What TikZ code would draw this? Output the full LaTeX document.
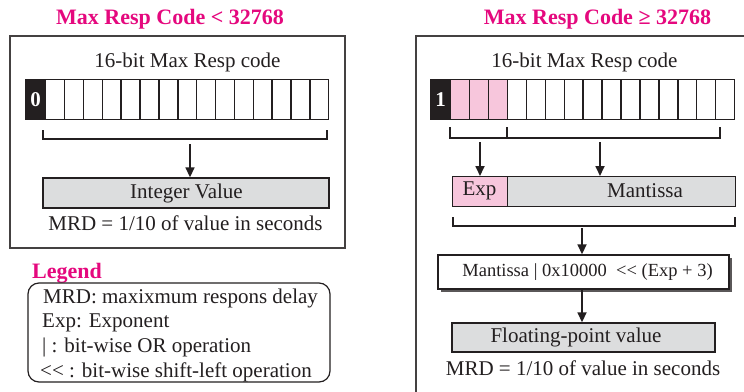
\documentclass[tikz,border=0pt]{standalone}
\usepackage{fontspec}
\setmainfont{Liberation Serif}
\usetikzlibrary{arrows.meta,shadows}
\definecolor{mag}{HTML}{E5087E}
\definecolor{pinkc}{HTML}{F7C6DC}
\definecolor{grayc}{HTML}{DCDDDE}
\definecolor{ink}{HTML}{231F20}
\begin{document}
\begin{tikzpicture}[x=1pt,y=-1pt,
  txt/.style={font=\fontsize{21}{25}\selectfont, text=ink, inner sep=0},
  ttl/.style={font=\fontsize{22}{26}\selectfont\bfseries, text=mag, inner sep=0, anchor=base},
  cell/.style={draw=ink, line width=1.4pt, minimum width=18.9pt, minimum height=40pt, inner sep=0, anchor=north west},
  bitone/.style={cell, fill=ink, minimum width=20pt, text=white, font=\fontsize{21}{25}\selectfont\bfseries},
  valbox/.style={draw=ink, line width=1.4pt, fill=grayc, inner sep=0, text=ink, font=\fontsize{21}{25}\selectfont},
  panel/.style={draw=ink!85, line width=1.3pt},
  brk/.style={draw=ink, line width=1.4pt},
  arr/.style={draw=ink, line width=1.7pt, -{Triangle[length=10pt,width=9pt]}}
]
\useasboundingbox (0,0) rectangle (744,391);
\fill[white] (0,0) rectangle (744,391);

% ---------------- Left panel ----------------
\node[ttl] (tL) at (170,24) {Max Resp Code < 32768};
\draw[panel] (10,36) rectangle (345,248);
\node[txt, anchor=base] (cL) at (187.5,67) {16-bit Max Resp code};
\node[bitone] (L0) at (25,79) {0};
\foreach \i in {1,...,15}{
  \node[cell] (L\i) at ({45+(\i-1)*18.87},79) {};
}
\coordinate (lb1) at (43,130);
\coordinate (lb2) at (327,130);
\draw[brk] (lb1) -- ++(0,9) -| (lb2);
\node[valbox, minimum width=286pt, minimum height=30pt] (IV) at (186,193) {};
\node[txt] (IVt) at (186.5,193) {Integer Value};
\coordinate (la) at (190,144);
\draw[arr] (la) -- (la |- IV.north);
\node[txt, anchor=base] (mrdL) at (185.5,230) {MRD = 1/10 of value in seconds};

% Legend
\node[ttl, anchor=base west] (leg) at (32,278) {Legend};
\draw[draw=ink, line width=1.2pt, rounded corners=11pt] (28,283) rectangle (330,382);
\node[txt, anchor=base west] (lg1) at (43,303) {MRD: maxixmum respons delay};
\node[txt, anchor=base west] (lg2) at (42,327.5) {Exp: Exponent};
\node[txt, anchor=base west] (lg3) at (42,352) {| : bit-wise OR operation};
\node[txt, anchor=base west] (lg4) at (40,377) {<{}< : bit-wise shift-left operation};

% ---------------- Right panel ----------------
\node[ttl] (tR) at (597.5,24) {Max Resp Code ≥ 32768};
\draw[panel] (745,36) -- (416,36) -- (416,392);
\node[txt, anchor=base] (cR) at (584.5,67) {16-bit Max Resp code};
\node[bitone] (R0) at (430,79) {1};
\foreach \i in {1,...,15}{
  \ifnum\i<4
    \node[cell, fill=pinkc] (R\i) at ({450+(\i-1)*18.93},79) {};
  \else
    \node[cell] (R\i) at ({450+(\i-1)*18.93},79) {};
  \fi
}
\coordinate (rb1) at (450,127);
\coordinate (rbm) at (507,127);
\coordinate (rb2) at (720,127);
\draw[brk] (rb1) -- ++(0,11) -| (rb2);
\draw[draw=ink, line width=2.6pt] (rbm) -- ++(0,11);

\node[draw=ink, line width=1.4pt, fill=pinkc, minimum width=55pt, minimum height=30pt, inner sep=0, anchor=north west] (Exp) at (452,176) {};
\node[txt] (Expt) at (479.5,191) {Exp};
\node[valbox, minimum width=228pt, minimum height=30pt, anchor=north west] (Man) at (507,176) {};
\node[txt] (Mant) at (645,191) {Mantissa};
\coordinate (ra1) at (480,142);
\coordinate (ra2) at (600,142);
\draw[arr] (ra1) -- (ra1 |- Exp.north);
\draw[arr] (ra2) -- (ra2 |- Man.north);

\coordinate (rc1) at (453,217);
\coordinate (rc2) at (735,217);
\draw[brk] (rc1) -- ++(0,9) -| (rc2);

\node[draw=ink, line width=1.4pt, fill=white, minimum width=291pt, minimum height=34pt, inner sep=0,
      drop shadow={shadow xshift=3pt, shadow yshift=-3pt, fill=ink!75, opacity=1}] (F) at (583.5,272) {};
\node[txt, font=\fontsize{18.5}{22}\selectfont] (Ft) at (587.5,272) {Mantissa | 0x10000\ \ <{}< (Exp + 3)};
\coordinate (rd) at (582,228);
\draw[arr] (rd) -- (rd |- F.north);

\node[valbox, minimum width=263pt, minimum height=29pt] (FP) at (583.5,337.5) {};
\node[txt] (FPt) at (576,337.5) {Floating-point value};
\draw[arr] (F.south -| rd) -- (FP.north -| rd);
\node[txt, anchor=base] (mrdR) at (583,375) {MRD = 1/10 of value in seconds};
\end{tikzpicture}
\end{document}
